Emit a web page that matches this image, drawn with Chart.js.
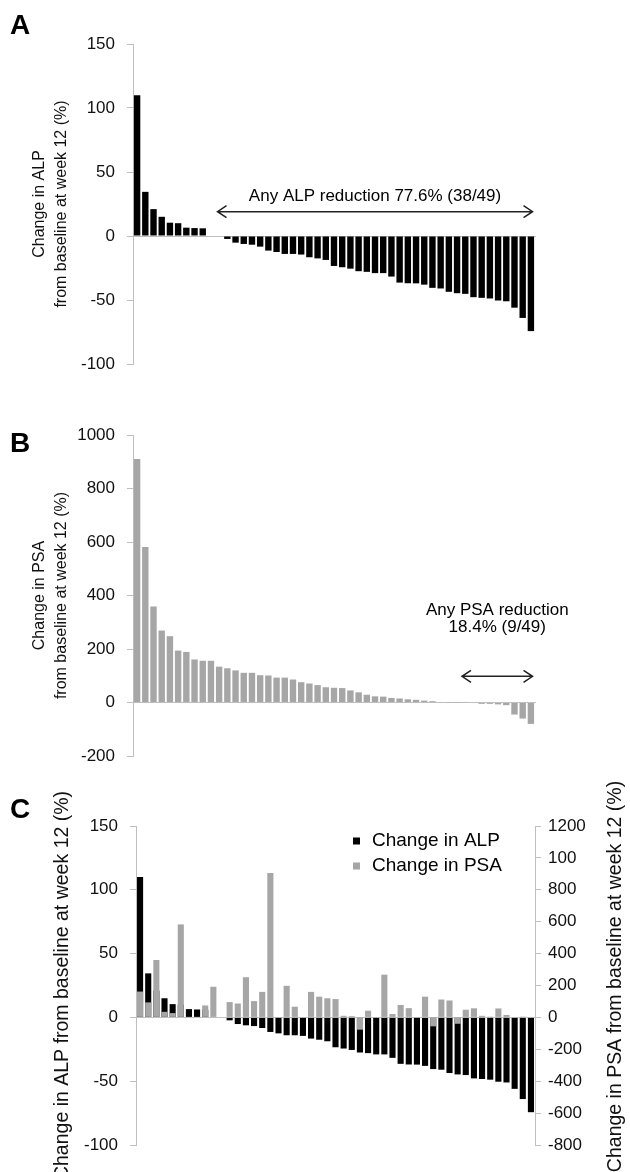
<!DOCTYPE html>
<html>
<head>
<meta charset="utf-8">
<script src="https://cdn.jsdelivr.net/npm/chart.js@4.4.0/dist/chart.umd.min.js"></script>
<style>
  html, body { margin: 0; padding: 0; background: #fff; }
  #wrap { position: relative; width: 630px; height: 1172px; }
  canvas { position: absolute; left: 0; }
</style>
</head>
<body>
<div id="wrap">
  <canvas id="chartA" width="630" height="390" style="top:0"></canvas>
  <canvas id="chartB" width="630" height="390" style="top:390px"></canvas>
  <canvas id="chartC" width="630" height="392" style="top:780px"></canvas>
</div>
<script>
// 49 patients, ordered by ALP change (A and C)
const patients = Array.from({ length: 49 }, (_, i) => 'P' + (i + 1));

const alpChange = [110, 34.5, 21, 15, 10.4, 10, 6.5, 6.2, 6, 0, 0,
  -2.3, -5.2, -6.2, -6.8, -8.3, -11.4, -12.5, -14, -14, -14.5,
  -16.6, -17.5, -18.7, -23.4, -24.4, -25.5, -27.5, -28, -29, -29,
  -31.7, -36.4, -36.9, -37, -38, -40.5, -41, -43.6, -44.7, -45.2,
  -47.8, -48.3, -48.8, -50.4, -51, -56, -64, -74.3];

// PSA change sorted high to low (B)
const psaSorted = [910, 581, 359, 269, 248, 194, 189, 161, 156, 156,
  134, 128, 120, 111, 111, 102, 101, 93, 93, 86,
  76, 71, 65, 57, 55, 54, 45, 38, 29, 23,
  22, 17, 15, 12, 10, 7, 5, 2, 1, 0.5,
  -1, -2, -5, -5, -7, -10, -45, -60, -80];

// PSA change per patient, in ALP order (C)
const psaByPatient = [162, 94, 360, 35, 27, 583, 0, 0, 75, 192,
  0, 96, 87, 252, 102, 160, 906, 0, 198, 67,
  0, 160, 130, 120, 115, 10, 8, -77, 42, 0,
  268, 21, 78, 58, 0, 130, -56, 112, 106, -40,
  48, 57, 10, 5, 56, 15, 0, 5, 0];

const rightTickLabels = ['-800', '-600', '-400', '-200', '0', '200', '400', '600', '800', '100', '1200'];

const FONT = '"Liberation Sans", Arial, sans-serif';
const BLACK = '#000000';
const GREY = '#a6a6a6';
const AXIS = '#bfbfbf';

Chart.defaults.font.family = FONT;
Chart.defaults.color = '#000';

const extras = {
  id: 'extras',
  afterDraw(chart, args, o) {
    const ctx = chart.ctx;
    const { x, y } = chart.scales;
    ctx.save();
    ctx.fillStyle = '#000';
    if (o.letter) {
      ctx.font = 'bold 28px ' + FONT;
      ctx.textAlign = 'left';
      ctx.textBaseline = 'alphabetic';
      ctx.fillText(o.letter, 10, o.letterY);
    }
    if (o.arrow) {
      const a = o.arrow;
      const x1 = x.getPixelForValue(a.from);
      const x2 = x.getPixelForValue(a.to);
      const ya = y.getPixelForValue(a.at);
      ctx.strokeStyle = '#222';
      ctx.lineWidth = 1.5;
      ctx.beginPath();
      ctx.moveTo(x1, ya); ctx.lineTo(x2, ya);
      ctx.moveTo(x1 + 9, ya - 6); ctx.lineTo(x1, ya); ctx.lineTo(x1 + 9, ya + 6);
      ctx.moveTo(x2 - 9, ya - 6); ctx.lineTo(x2, ya); ctx.lineTo(x2 - 9, ya + 6);
      ctx.stroke();
      ctx.font = '17px ' + FONT;
      ctx.textAlign = 'center';
      ctx.textBaseline = 'middle';
      const xm = (x1 + x2) / 2;
      a.text.forEach(t => ctx.fillText(t.s, xm, y.getPixelForValue(t.at)));
    }
    if (o.legend) {
      const ca = chart.chartArea;
      ctx.font = '19px ' + FONT;
      ctx.textAlign = 'left';
      ctx.textBaseline = 'middle';
      chart.data.datasets.forEach((ds, i) => {
        const ly = ca.top + o.legend.top + i * 25;
        ctx.fillStyle = ds.backgroundColor;
        ctx.fillRect(o.legend.x, ly - 3.5, 7, 7);
        ctx.fillStyle = '#000';
        ctx.fillText(ds.label, o.legend.x + 19, ly);
      });
    }
    if (o.rightTitle) {
      const ca = chart.chartArea;
      ctx.font = '19.5px ' + FONT;
      ctx.fillStyle = '#111';
      ctx.textAlign = 'center';
      ctx.textBaseline = 'middle';
      ctx.translate(o.rightTitle.x, (ca.top + ca.bottom) / 2 - 9);
      ctx.rotate(-Math.PI / 2);
      ctx.fillText(o.rightTitle.text, 0, 0);
    }
    ctx.restore();
  }
};

function xAxis() {
  return {
    type: 'category',
    position: { y: 0 },
    offset: true,
    grid: { display: false },
    ticks: { display: false },
    border: { color: AXIS, width: 1 }
  };
}

function leftAxis(min, max, step, title, titleSize, lineHeight, titlePad, width) {
  return {
    min: min, max: max,
    ticks: { stepSize: step, padding: 12, font: { size: 17 }, color: '#111', callback: v => String(v) },
    grid: { drawOnChartArea: false, tickLength: 6, color: AXIS },
    border: { color: AXIS },
    title: { display: true, text: title, font: { size: titleSize, lineHeight: lineHeight }, padding: { top: titlePad, bottom: 0 }, color: '#111' },
    afterFit(s) { s.width = width; }
  };
}

const common = {
  responsive: false,
  animation: false,
  events: [],
  plugins: { legend: { display: false }, tooltip: { enabled: false } }
};

new Chart(document.getElementById('chartA'), {
  type: 'bar',
  data: {
    labels: patients,
    datasets: [{ label: 'Change in ALP', data: alpChange, backgroundColor: BLACK, barPercentage: 0.78, categoryPercentage: 1 }]
  },
  options: {
    ...common,
    layout: { padding: { top: 44, bottom: 26, left: 0, right: 95 } },
    scales: {
      x: xAxis(),
      y: leftAxis(-100, 150, 50, ['Change in ALP', 'from baseline at week 12 (%)'], 16, 1.375, 29, 133)
    },
    plugins: {
      ...common.plugins,
      extras: {
        letter: 'A', letterY: 34,
        arrow: { from: 9.8, to: 48.2, at: 19, text: [{ s: 'Any ALP reduction 77.6% (38/49)', at: 31 }] }
      }
    }
  },
  plugins: [extras]
});

new Chart(document.getElementById('chartB'), {
  type: 'bar',
  data: {
    labels: patients,
    datasets: [{ label: 'Change in PSA', data: psaSorted, backgroundColor: GREY, barPercentage: 0.78, categoryPercentage: 1 }]
  },
  options: {
    ...common,
    layout: { padding: { top: 45, bottom: 24, left: 0, right: 95 } },
    scales: {
      x: xAxis(),
      y: leftAxis(-200, 1000, 200, ['Change in PSA', 'from baseline at week 12 (%)'], 16, 1.375, 29, 133)
    },
    plugins: {
      ...common.plugins,
      extras: {
        letter: 'B', letterY: 62,
        arrow: { from: 39.6, to: 48.2, at: 98, text: [{ s: 'Any PSA reduction', at: 344 }, { s: '18.4% (9/49)', at: 280 }] }
      }
    }
  },
  plugins: [extras]
});

new Chart(document.getElementById('chartC'), {
  type: 'bar',
  data: {
    labels: patients,
    datasets: [
      { label: 'Change in ALP', data: alpChange, backgroundColor: BLACK, yAxisID: 'y', order: 1, grouped: false, barPercentage: 0.75, categoryPercentage: 1 },
      { label: 'Change in PSA', data: psaByPatient, backgroundColor: GREY, yAxisID: 'y2', order: 0, grouped: false, barPercentage: 0.75, categoryPercentage: 1 }
    ]
  },
  options: {
    ...common,
    layout: { padding: { top: 46, bottom: 27, left: 0, right: 0 } },
    scales: {
      x: xAxis(),
      y: leftAxis(-100, 150, 50, 'Change in ALP from baseline at week 12 (%)', 19.5, 1.2, 51, 136),
      y2: {
        position: 'right',
        min: -800, max: 1200,
        ticks: { stepSize: 200, padding: 7, font: { size: 17 }, color: '#111', callback: (v, i) => rightTickLabels[i] },
        grid: { drawOnChartArea: false, tickLength: 6, color: AXIS },
        border: { color: AXIS },
        afterFit(s) { s.width = 95; }
      }
    },
    plugins: {
      ...common.plugins,
      extras: {
        letter: 'C', letterY: 38,
        legend: { x: 353, top: 15 },
        rightTitle: { x: 616, text: 'Change in PSA from baseline at week 12 (%)' }
      }
    }
  },
  plugins: [extras]
});
</script>
</body>
</html>
